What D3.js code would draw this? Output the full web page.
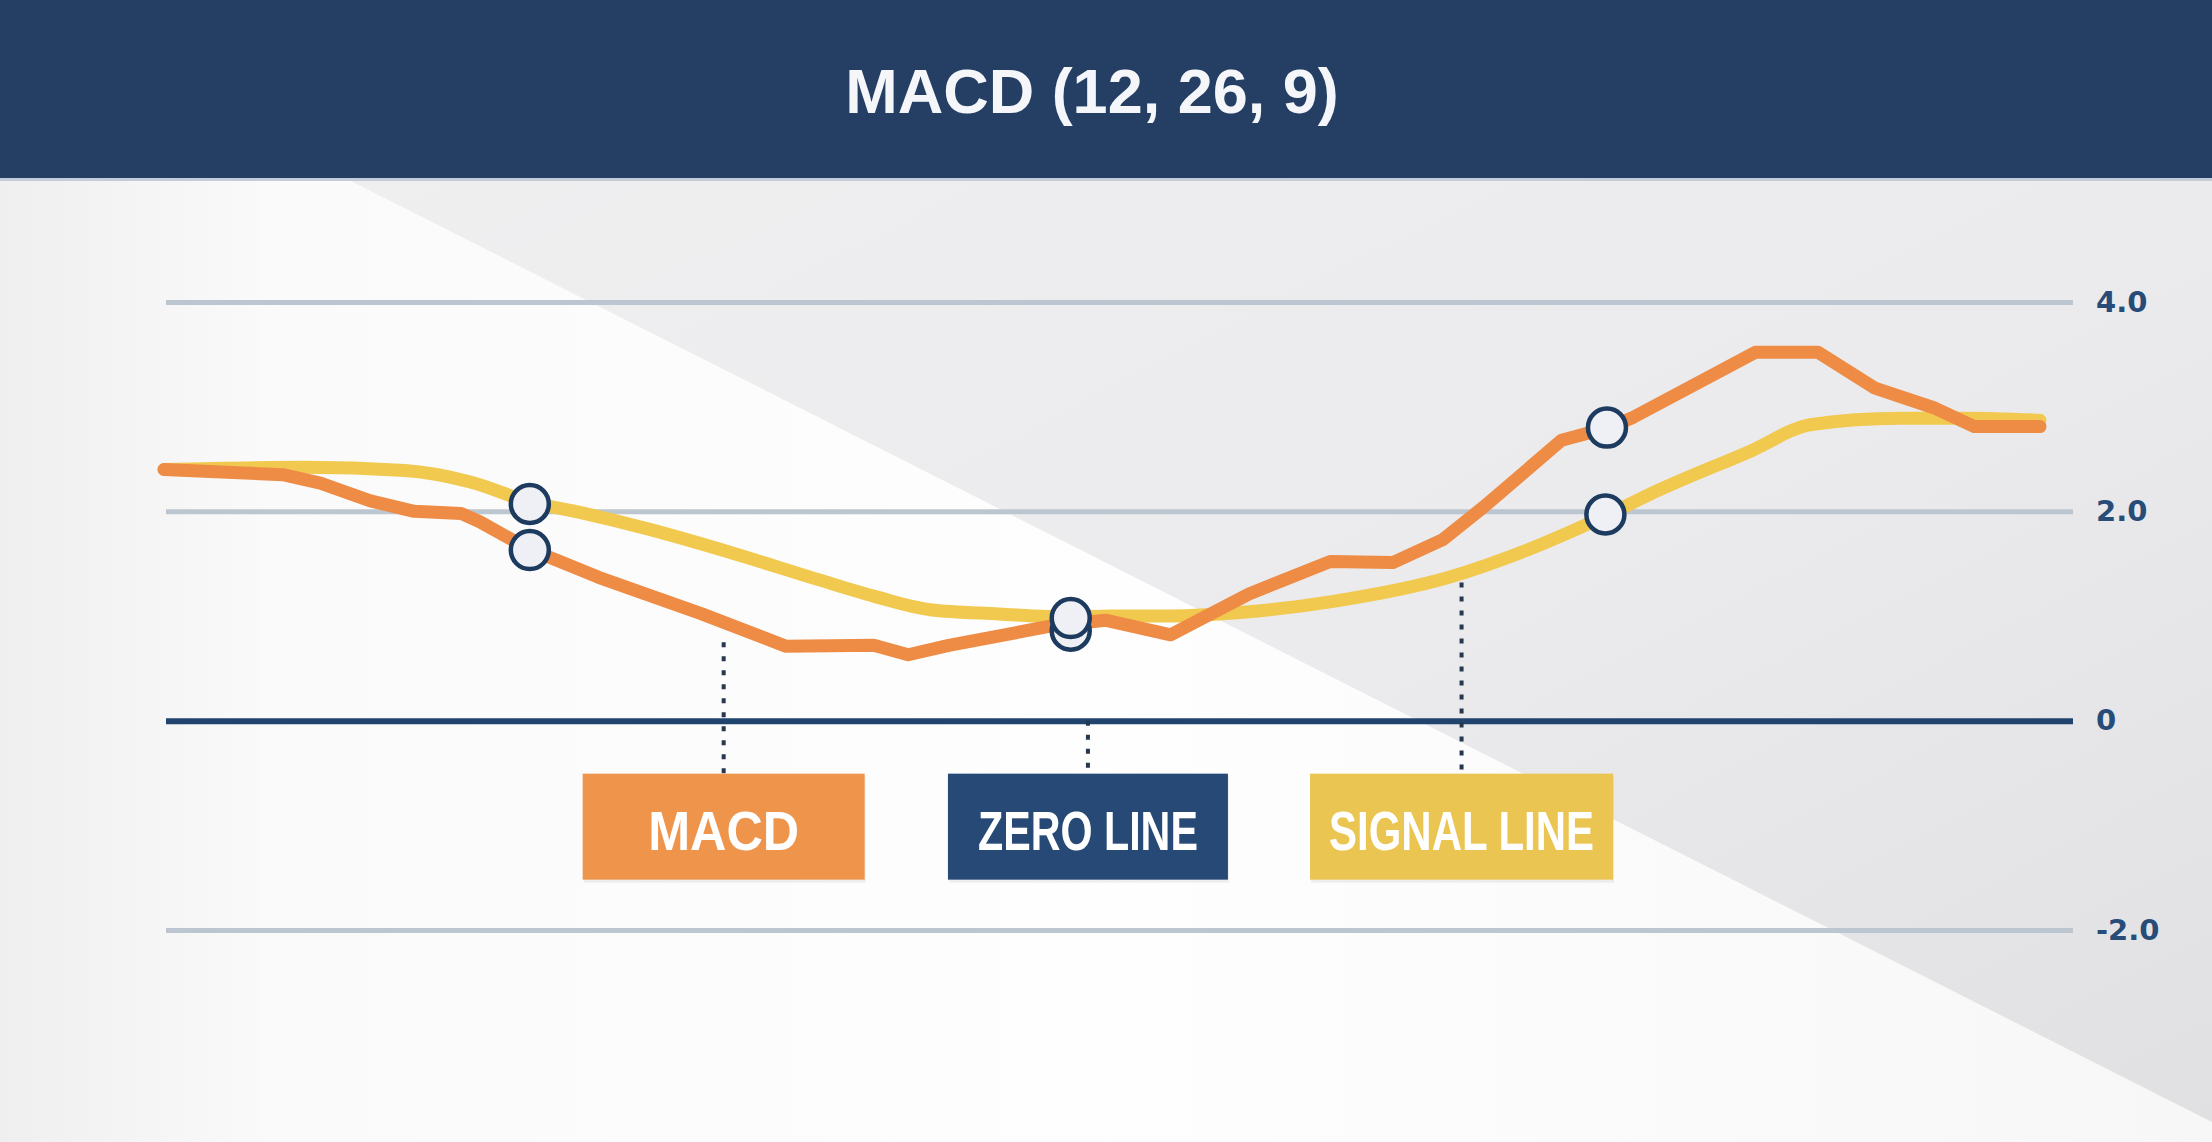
<!DOCTYPE html>
<html>
<head>
<meta charset="utf-8">
<script src="https://cdn.jsdelivr.net/npm/d3@7"></script>
<style>
  body { margin: 0; background: #ececee; }
  svg { display: block; }
</style>
</head>
<body>
<svg id="chart"></svg>
<script>
// MACD line (orange)
var macdT = [0, 3.8, 5.0, 6.6, 8.0, 9.5, 10.1, 11.6, 13.9, 17.2, 19.9, 22.7, 23.8, 25.1, 28.3, 30.1, 32.2, 34.7, 37.3, 39.3, 40.9, 42.2, 44.7, 46.2, 47.0, 50.9, 52.9, 54.7, 56.6, 57.9, 60]
var macdV = [2.40, 2.35, 2.27, 2.10, 2.00, 1.98, 1.90, 1.65, 1.37, 1.02, 0.71, 0.72, 0.63, 0.72, 0.90, 0.96, 0.82, 1.21, 1.52, 1.51, 1.73, 2.04, 2.68, 2.80, 2.90, 3.52, 3.52, 3.18, 2.99, 2.81, 2.81]

// signal line (yellow)
var signalT = [0, 4.45, 7.7, 9.8, 11.7, 13.3, 15.5, 18.2, 20.9, 22.7, 24.5, 26.7, 29.0, 30.3, 32.2, 34.7, 37.4, 41.1, 43.6, 46.2, 47.5, 50.7, 52.7, 55.5, 57.7, 60]
var signalV = [2.40, 2.42, 2.39, 2.28, 2.09, 1.99, 1.83, 1.60, 1.35, 1.19, 1.06, 1.02, 0.99, 1.00, 1.00, 1.04, 1.14, 1.37, 1.63, 1.97, 2.16, 2.57, 2.83, 2.89, 2.89, 2.87]

// crossover markers
var crossT = [11.7, 11.7, 29.0, 29.0, 46.1, 46.15]
var crossV = [1.63, 2.07, 0.86, 0.98, 1.97, 2.80]

// y ticks
var tickValues = [-2, 0, 2, 4]
var tickLabels = ["-2.0", "0", "2.0", "4.0"]

// callout labels
var labelNames = ["MACD", "ZERO LINE", "SIGNAL LINE"]
var labelT = [17.9, 29.55, 41.5]
var labelTop = [0.75, 0, 1.32]

var title = "MACD (12, 26, 9)"

var width = 2212
var height = 1142

var svg = d3.select("#chart")
    .attr("width", width)
    .attr("height", height)

var defs = svg.append("defs")

var grayGrad = defs.append("linearGradient")
    .attr("id", "grayGrad")
    .attr("x1", "0").attr("y1", "0").attr("x2", "1").attr("y2", "1")
grayGrad.append("stop").attr("offset", "0").attr("stop-color", "#f0f0f1")
grayGrad.append("stop").attr("offset", "0.6").attr("stop-color", "#ebebed")
grayGrad.append("stop").attr("offset", "1").attr("stop-color", "#e0e0e3")

var whiteGrad = defs.append("linearGradient")
    .attr("id", "whiteGrad")
    .attr("x1", "0").attr("y1", "0").attr("x2", "1").attr("y2", "0")
whiteGrad.append("stop").attr("offset", "0").attr("stop-color", "#efeff0")
whiteGrad.append("stop").attr("offset", "0.12").attr("stop-color", "#fafafa")
whiteGrad.append("stop").attr("offset", "0.5").attr("stop-color", "#fefefe")
whiteGrad.append("stop").attr("offset", "1").attr("stop-color", "#f7f7f8")

// background
svg.append("rect")
    .attr("width", width)
    .attr("height", height)
    .attr("fill", "url(#grayGrad)")

svg.append("polygon")
    .attr("points", "0,178 345,178 2212,1122 2212,1142 0,1142")
    .attr("fill", "url(#whiteGrad)")

// title bar
svg.append("rect")
    .attr("width", width)
    .attr("height", 178)
    .attr("fill", "#253f64")
svg.append("rect")
    .attr("y", 178)
    .attr("width", width)
    .attr("height", 3)
    .attr("fill", "#c3ccd8")

svg.append("text")
    .attr("x", 1092)
    .attr("y", 113)
    .attr("text-anchor", "middle")
    .attr("fill", "#f4f6fa")
    .style("font-family", "'Liberation Sans', Arial, sans-serif")
    .style("font-weight", "bold")
    .style("font-size", "63px")
    .text(title)

var x = d3.scaleLinear()
    .domain([0, 60])
    .range([164, 2040])

var y = d3.scaleLinear()
    .domain([-2, 4])
    .range([930, 302])

// gridlines + labels on the right
var yAxis = d3.axisRight(y)
    .tickValues(tickValues)
    .tickSize(2073 - 166)
    .tickPadding(23)
    .tickFormat(function(d, i) { return tickLabels[i] })

var axisG = svg.append("g")
    .attr("class", "yaxis")
    .attr("transform", "translate(166,0)")
    .call(yAxis)

axisG.select(".domain").remove()
axisG.selectAll(".tick line")
    .attr("stroke", function(d) { return d === 0 ? "#21446e" : "#bcc6d1" })
    .attr("stroke-width", function(d) { return d === 0 ? 6 : 5 })
axisG.selectAll(".tick text")
    .attr("fill", "#284c78")
    .style("font-family", "'DejaVu Sans', sans-serif")
    .style("font-weight", "bold")
    .style("font-size", "29px")

// callouts
var boxW = [282, 280, 303]
var boxH = 106
var boxTop = y(0) + 53
var boxColor = ["#ef954b", "#264a75", "#ebc551"]
var textLen = [151, 220, 265]

var labels = labelNames.map(function(name, i) {
    return { name: name, t: labelT[i], top: labelTop[i], w: boxW[i], color: boxColor[i], len: textLen[i] }
})

svg.selectAll(".connector")
    .data(labels)
    .enter()
    .append("line")
    .attr("class", "connector")
    .attr("x1", function(d) { return x(d.t) })
    .attr("x2", function(d) { return x(d.t) })
    .attr("y1", function(d) { return y(d.top) })
    .attr("y2", boxTop)
    .attr("stroke", "#27374d")
    .attr("stroke-width", 4)
    .attr("stroke-dasharray", "5,9")

var boxG = svg.selectAll(".callout")
    .data(labels)
    .enter()
    .append("g")
    .attr("class", "callout")
    .attr("transform", function(d) { return "translate(" + (x(d.t) - d.w / 2) + "," + boxTop + ")" })

boxG.append("rect")
    .attr("x", 1)
    .attr("y", 3)
    .attr("width", function(d) { return d.w })
    .attr("height", boxH)
    .attr("fill", "#000")
    .attr("opacity", 0.06)

boxG.append("rect")
    .attr("width", function(d) { return d.w })
    .attr("height", boxH)
    .attr("fill", function(d) { return d.color })

boxG.append("text")
    .attr("x", function(d) { return d.w / 2 })
    .attr("y", 76)
    .attr("text-anchor", "middle")
    .attr("fill", "#ffffff")
    .attr("textLength", function(d) { return d.len })
    .attr("lengthAdjust", "spacingAndGlyphs")
    .style("font-family", "'Liberation Sans', Arial, sans-serif")
    .style("font-weight", "bold")
    .style("font-size", "56px")
    .text(function(d) { return d.name })

// lines
var signalData = signalT.map(function(t, i) { return { t: t, v: signalV[i] } })
var macdData = macdT.map(function(t, i) { return { t: t, v: macdV[i] } })

var line = d3.line()
    .x(function(d) { return x(d.t) })
    .y(function(d) { return y(d.v) })

var smoothLine = d3.line()
    .curve(d3.curveMonotoneX)
    .x(function(d) { return x(d.t) })
    .y(function(d) { return y(d.v) })

svg.append("path")
    .datum(signalData)
    .attr("class", "signal")
    .attr("d", smoothLine)
    .attr("fill", "none")
    .attr("stroke", "#f1c94f")
    .attr("stroke-width", 13)
    .attr("stroke-linejoin", "round")
    .attr("stroke-linecap", "round")

svg.append("path")
    .datum(macdData)
    .attr("class", "macd")
    .attr("d", line)
    .attr("fill", "none")
    .attr("stroke", "#ee8c46")
    .attr("stroke-width", 13)
    .attr("stroke-linejoin", "round")
    .attr("stroke-linecap", "round")

// crossover circles
var crossData = crossT.map(function(t, i) { return { t: t, v: crossV[i] } })

svg.selectAll(".cross")
    .data(crossData)
    .enter()
    .append("circle")
    .attr("class", "cross")
    .attr("cx", function(d) { return x(d.t) })
    .attr("cy", function(d) { return y(d.v) })
    .attr("r", 19)
    .attr("fill", "#eef0f5")
    .attr("stroke", "#1d3a5f")
    .attr("stroke-width", 4.5)
</script>
</body>
</html>
